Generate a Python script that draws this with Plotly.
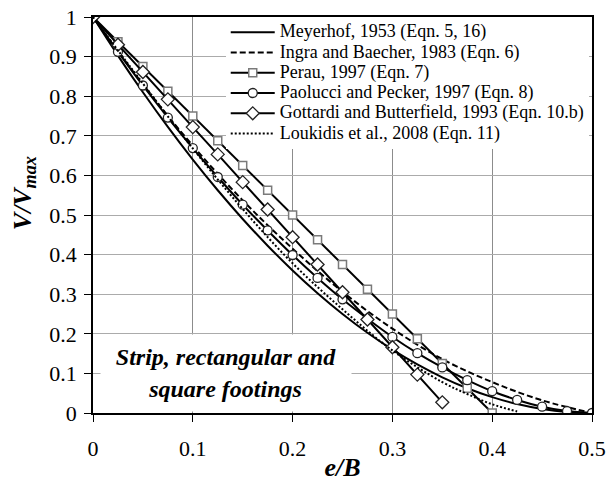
import plotly.graph_objects as go

# e/B grid for the markered series
e_full = [0, 0.025, 0.05, 0.075, 0.1, 0.125, 0.15, 0.175, 0.2, 0.225, 0.25,
          0.275, 0.3, 0.325, 0.35, 0.375, 0.4, 0.425, 0.45, 0.475, 0.5]

meyerhof = [1, 0.9025, 0.81, 0.7225, 0.64, 0.5625, 0.49, 0.4225, 0.36, 0.3025, 0.25,
            0.2025, 0.16, 0.1225, 0.09, 0.0625, 0.04, 0.0225, 0.01, 0.0025, 0]

ingra_e = [0, 0.05, 0.1, 0.15, 0.2, 0.25, 0.3, 0.35, 0.4, 0.45, 0.5]
ingra = [1, 0.83, 0.675, 0.537, 0.415, 0.306, 0.213, 0.136, 0.078, 0.032, 0]

perau_e = e_full[:17]
perau = [1, 0.9375, 0.875, 0.8125, 0.75, 0.6875, 0.625, 0.5625, 0.5, 0.4375, 0.375,
         0.3125, 0.25, 0.1875, 0.125, 0.0625, 0]

paolucci = [1, 0.912, 0.827, 0.746, 0.669, 0.596, 0.526, 0.461, 0.399, 0.341, 0.287,
            0.238, 0.192, 0.151, 0.115, 0.083, 0.055, 0.033, 0.016, 0.005, 0]

gottardi_e = e_full[:15]
gottardi = [1, 0.93, 0.861, 0.792, 0.722, 0.653, 0.583, 0.514, 0.444, 0.375, 0.305,
            0.236, 0.166, 0.097, 0.027]

loukidis_e = [0, 0.05, 0.1, 0.15, 0.2, 0.25, 0.3, 0.35, 0.375, 0.4, 0.425]
loukidis = [1, 0.832, 0.668, 0.515, 0.378, 0.262, 0.158, 0.078, 0.048, 0.022, 0.004]

names = ["Meyerhof, 1953 (Eqn. 5, 16)",
         "Ingra and Baecher, 1983 (Eqn. 6)",
         "Perau, 1997 (Eqn. 7)",
         "Paolucci and Pecker, 1997 (Eqn. 8)",
         "Gottardi and Butterfield, 1993 (Eqn. 10.b)",
         "Loukidis et al., 2008 (Eqn. 11)"]

x_ticks = [0, 0.1, 0.2, 0.3, 0.4, 0.5]
y_ticks = [0, 0.1, 0.2, 0.3, 0.4, 0.5, 0.6, 0.7, 0.8, 0.9, 1]

FONT = "Times New Roman, Times, Liberation Serif, DejaVu Serif, serif"


def lbl(s):
    return '<span style="font-size:18px">' + s + '</span>'


fig = go.Figure()
fig.add_trace(go.Scatter(x=e_full, y=meyerhof, mode="lines", name=lbl(names[0]),
                         line=dict(color="black", width=2, shape="spline")))
fig.add_trace(go.Scatter(x=ingra_e, y=ingra, mode="lines", name=lbl(names[1]),
                         line=dict(color="black", width=2, dash="6px,3px", shape="spline")))
fig.add_trace(go.Scatter(x=perau_e, y=perau, mode="lines+markers", name=lbl(names[2]),
                         line=dict(color="black", width=2),
                         marker=dict(symbol="square", size=8, color="white",
                                     line=dict(color="#7a7a7a", width=1.5))))
fig.add_trace(go.Scatter(x=e_full, y=paolucci, mode="lines+markers", name=lbl(names[3]),
                         line=dict(color="black", width=2, shape="spline"),
                         marker=dict(symbol="circle", size=9, color="white",
                                     line=dict(color="#222222", width=1.3))))
fig.add_trace(go.Scatter(x=gottardi_e, y=gottardi, mode="lines+markers", name=lbl(names[4]),
                         line=dict(color="black", width=2),
                         marker=dict(symbol="diamond", size=10, color="white",
                                     line=dict(color="#222222", width=1.3))))
fig.add_trace(go.Scatter(x=loukidis_e, y=loukidis, mode="lines", name=lbl(names[5]),
                         line=dict(color="black", width=2, dash="2px,2px", shape="spline")))

axis_common = dict(showline=True, linecolor="black", linewidth=1.5, mirror=True,
                   showgrid=True, gridwidth=1, zeroline=False,
                   ticks="outside", ticklen=7, tickcolor="black", tickwidth=1.2,
                   automargin=False,
                   tickfont=dict(family=FONT, size=22, color="black"))

fig.update_layout(
    width=606, height=482,
    margin=dict(l=93, r=14, t=17, b=69),
    paper_bgcolor="white", plot_bgcolor="white",
    font=dict(family=FONT, color="black"),
    showlegend=True,
    legend=dict(x=0.266, y=1.0, xanchor="left", yanchor="top",
                bgcolor="white", borderwidth=0, itemwidth=44,
                font=dict(family=FONT, size=13.3, color="black"),
                tracegroupgap=0),
    xaxis=dict(range=[0, 0.5], tickvals=x_ticks, ticktext=[str(v) for v in x_ticks],
               gridcolor="#8c8c8c",
               title=dict(text="<b><i>e/B</i></b>", font=dict(family=FONT, size=26), standoff=6),
               ticklabelstandoff=8, **axis_common),
    yaxis=dict(range=[0, 1], tickvals=y_ticks, gridcolor="#ababab",
               ticktext=["0", "0.1", "0.2", "0.3", "0.4", "0.5", "0.6", "0.7", "0.8", "0.9", "1"],
               ticklabelstandoff=3, **axis_common),
    xaxis2=dict(range=[0, 0.5], overlaying="x", anchor="y", tickvals=x_ticks,
                ticks="inside", ticklen=5, tickcolor="black", tickwidth=1.2, automargin=False,
                showticklabels=False, showgrid=False, showline=False, zeroline=False),
    yaxis2=dict(range=[0, 1], overlaying="y", anchor="x", tickvals=y_ticks,
                ticks="inside", ticklen=9, tickcolor="black", tickwidth=1.2, automargin=False,
                showticklabels=False, showgrid=False, showline=False, zeroline=False),
)

# y-axis title (placed as in the reference, slightly above centre)
fig.add_annotation(xref="paper", yref="paper", x=-0.138, y=0.555, xanchor="center", yanchor="middle",
                   text="<b><i>V/V<sub>max</sub></i></b>", textangle=-90, showarrow=False,
                   font=dict(family=FONT, size=26, color="black"))

fig.add_annotation(xref="paper", yref="paper", x=0.2675, y=0.1, xanchor="center", yanchor="middle",
                   text="<b><i>Strip, rectangular and<br>square footings</i></b>",
                   showarrow=False, bgcolor="white", width=248, height=74,
                   font=dict(family=FONT, size=24, color="black"))

fig.write_html("out.html")
